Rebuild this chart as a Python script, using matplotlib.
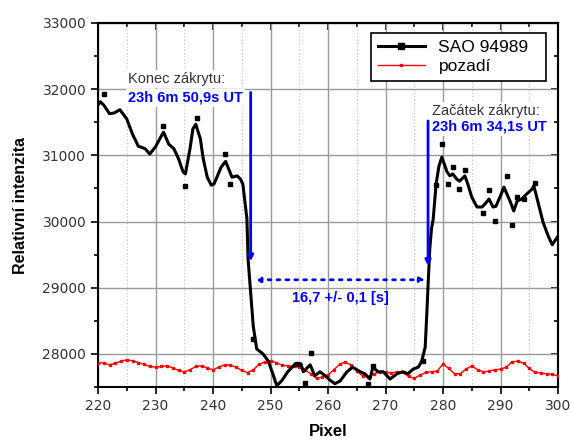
import matplotlib
matplotlib.use('Agg')
import matplotlib.pyplot as plt
from matplotlib.ticker import MultipleLocator

plt.rcParams['font.family'] = ['Liberation Sans', 'DejaVu Sans']

# SAO 94989 - smoothed curve (pixel, intensity)
star_x = [220.0, 220.4, 221.0, 222.0, 222.8, 223.8, 225.0, 226.0, 227.0, 228.2,
          229.0, 230.0, 231.0, 231.4, 232.3, 233.2, 234.0, 234.8, 235.2, 236.0,
          236.5, 237.0, 237.8, 238.3, 239.0, 239.7, 240.2, 241.4, 242.2, 243.3,
          244.2, 244.8, 245.2, 245.9, 246.1, 246.5, 247.0, 247.6, 248.7, 249.6,
          250.4, 251.1, 252.0, 253.0, 254.3, 255.3, 255.7, 256.9, 257.7, 258.6,
          259.5, 260.4, 261.2, 262.1, 263.3, 264.3, 265.6, 266.4, 267.3, 267.8,
          268.7, 269.6, 270.8, 272.0, 273.0, 273.9, 274.8, 275.7, 276.3, 276.9,
          277.2, 277.4, 277.7, 278.0, 278.3, 278.8, 279.3, 279.8, 280.7, 281.2,
          281.7, 282.4, 282.9, 283.8, 284.3, 285.0, 285.9, 286.8, 287.3, 288.0,
          288.7, 289.2, 290.0, 290.6, 291.7, 292.3, 292.9, 293.7, 294.6, 295.5,
          295.8, 296.5, 297.4, 298.3, 299.0, 300.0]
star_y = [31760, 31810, 31760, 31630, 31640, 31690, 31550, 31320, 31140, 31100,
          31020, 31130, 31290, 31350, 31170, 31100, 30950, 30750, 30720, 31100,
          31400, 31470, 31250, 30950, 30670, 30550, 30570, 30820, 30910, 30670,
          30690, 30640, 30560, 30040, 29435, 28980, 28420, 28075, 28000, 27895,
          27700, 27520, 27600, 27730, 27850, 27850, 27730, 27835, 27670, 27730,
          27670, 27600, 27550, 27590, 27730, 27800, 27730, 27700, 27620, 27800,
          27730, 27730, 27620, 27700, 27730, 27700, 27770, 27800, 27890, 28100,
          28635, 29030, 29590, 29890, 30040, 30570, 30840, 30975, 30750, 30690,
          30720, 30640, 30610, 30690, 30570, 30370, 30220, 30220, 30265, 30340,
          30220, 30230, 30390, 30520, 30300, 30160, 30310, 30340, 30420, 30490,
          30540, 30300, 29990, 29780, 29650, 29780]

# raw measured points (squares)
raw_x = [221.0, 231.3, 235.1, 237.2, 242.1, 243.0, 247.0, 254.6, 256.0, 257.0,
         267.0, 267.9, 276.5, 278.8, 279.9, 280.9, 281.8, 282.8, 283.9, 286.9,
         288.0, 289.0, 291.1, 292.0, 292.9, 294.0, 296.0]
raw_y = [31930, 31445, 30540, 31565, 31020, 30570, 28230, 27850, 27560, 28015,
         27550, 27820, 27900, 30550, 31170, 30570, 30820, 30490, 30780, 30130,
         30470, 30010, 30690, 29950, 30370, 30340, 30580]

# background (pozadi)
bg_x = list(range(220, 301))
bg_y = [27870, 27860, 27835, 27860, 27890, 27910, 27895, 27870, 27840, 27810,
        27800, 27810, 27820, 27790, 27750, 27730, 27760, 27810, 27820, 27790,
        27760, 27800, 27835, 27830, 27800, 27750, 27715, 27760, 27840, 27880,
        27895, 27870, 27830, 27820, 27810, 27800, 27760, 27700, 27630, 27650,
        27680, 27760, 27840, 27880, 27830, 27740, 27670, 27650, 27700, 27730,
        27720, 27710, 27730, 27720, 27660, 27630, 27680, 27720, 27730, 27740,
        27850, 27780, 27700, 27700, 27770, 27820, 27760, 27730, 27740, 27760,
        27770, 27800, 27880, 27890, 27860, 27780, 27720, 27710, 27700, 27690,
        27670]

# annotation values
end_px, end_top, end_tip = 246.55, 31950, 29400
start_px, start_top, start_tip = 277.4, 31520, 29330
span_y, span_x0, span_x1 = 29120, 247.3, 276.9

fig = plt.figure(figsize=(5.71, 4.41), dpi=100)
ax = fig.add_axes([98/571, 1-387/441, 460/571, 364/441])

ax.plot(bg_x, bg_y, color='red', linewidth=1, marker='s', markersize=1.5, label='pozadí', zorder=3)
ax.plot(star_x, star_y, color='black', linewidth=2.2, zorder=4)
ax.plot(raw_x, raw_y, 's', color='black', markersize=3, zorder=4)
# legend proxy for the star
ax.plot([], [], color='black', linewidth=2.2, marker='s', markersize=4, label='SAO 94989')

ax.set_xlim(220, 300)
ax.set_ylim(27500, 33000)
ax.xaxis.set_major_locator(MultipleLocator(10))
ax.xaxis.set_minor_locator(MultipleLocator(5))
ax.yaxis.set_major_locator(MultipleLocator(1000))
ax.yaxis.set_minor_locator(MultipleLocator(500))
ax.grid(True, which='major', color='#999999', linewidth=1)
ax.grid(True, which='minor', axis='x', color='#c0c0c0', linewidth=0.8, linestyle=(0, (1, 2)))
ax.set_axisbelow(True)

ax.tick_params(which='both', direction='out', width=1.2)
ax.tick_params(which='major', length=5, labelsize=10, labelcolor='#333333')
ax.tick_params(which='minor', length=3)
for lab in ax.get_xticklabels() + ax.get_yticklabels():
    lab.set_family('DejaVu Sans')

# inward ticks on top and right
top = ax.secondary_xaxis('top')
top.xaxis.set_major_locator(MultipleLocator(10))
top.xaxis.set_minor_locator(MultipleLocator(5))
top.tick_params(which='both', direction='in', labeltop=False, width=1.2)
top.tick_params(which='major', length=5)
top.tick_params(which='minor', length=3)
right = ax.secondary_yaxis('right')
right.yaxis.set_major_locator(MultipleLocator(1000))
right.yaxis.set_minor_locator(MultipleLocator(500))
right.tick_params(which='both', direction='in', labelright=False, width=1.2)
right.tick_params(which='major', length=5)
right.tick_params(which='minor', length=3)
for sp in list(ax.spines.values()) + [top.spines['top'], right.spines['right']]:
    sp.set_linewidth(1.5)

ax.set_xlabel('Pixel', fontsize=12, fontweight='bold', labelpad=8)
ax.set_ylabel('Relativní intenzita', fontsize=11.5, fontweight='bold', labelpad=10)

handles, labels = ax.get_legend_handles_labels()
leg = ax.legend(handles[::-1], labels[::-1], loc='upper left',
                bbox_to_anchor=(0.593, 0.832, 0.381, 0.14), mode='expand',
                fontsize=12.5, frameon=True, fancybox=False, edgecolor='black',
                framealpha=1, handlelength=2.7, borderaxespad=0, labelspacing=0.2)
leg.get_frame().set_linewidth(1.2)
leg.set_zorder(6)

blue = '#0000ff'
white_box = dict(facecolor='white', edgecolor='none', pad=1.5)
ax.text(225.3, 32150, 'Konec zákrytu:', fontsize=10.5, color='#333333', ha='left', va='center',
        bbox=white_box, zorder=5)
ax.text(225.3, 31870, '23h 6m 50,9s UT', fontsize=10.5, color=blue, fontweight='bold',
        ha='left', va='center', bbox=white_box, zorder=5)
ax.text(278.1, 31670, 'Začátek zákrytu:', fontsize=10.5, color='#333333', ha='left', va='center',
        bbox=white_box, zorder=5)
ax.text(278.1, 31430, '23h 6m 34,1s UT', fontsize=10.5, color=blue, fontweight='bold',
        ha='left', va='center', bbox=white_box, zorder=5)
ax.text((span_x0 + span_x1) / 2, span_y - 270, '16,7 +/- 0,1 [s]', fontsize=10.5, color=blue,
        fontweight='bold', ha='center', va='center', zorder=5)

arrow = dict(arrowstyle='-|>', color=blue, lw=2, mutation_scale=8, shrinkA=0, shrinkB=0)
ax.annotate('', xy=(end_px, end_tip), xytext=(end_px, end_top), arrowprops=arrow, zorder=5)
ax.annotate('', xy=(start_px, start_tip), xytext=(start_px, start_top), arrowprops=arrow, zorder=5)
ax.annotate('', xy=(span_x0, span_y), xytext=(span_x1, span_y),
            arrowprops=dict(arrowstyle='<|-|>', color=blue, lw=2, linestyle=(0, (1, 2.2)),
                            mutation_scale=7, shrinkA=0, shrinkB=0), zorder=5)

fig.savefig('out.png', dpi=100)
